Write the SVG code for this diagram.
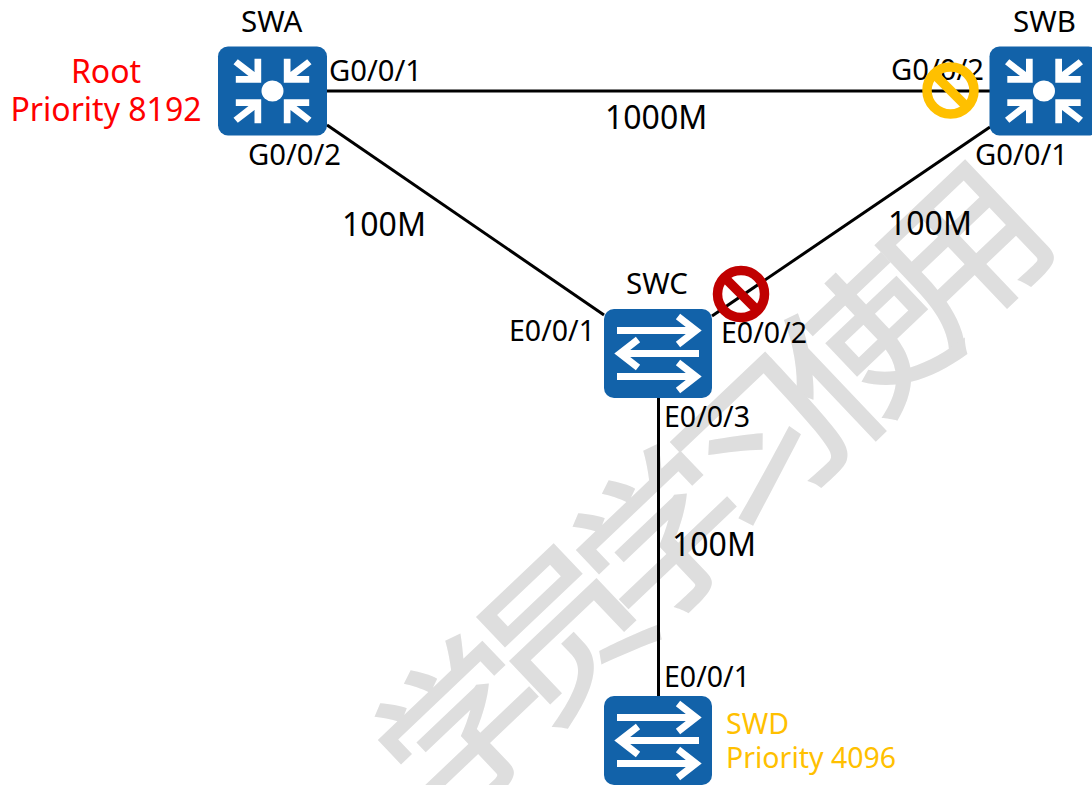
<svg xmlns="http://www.w3.org/2000/svg" width="1092" height="785" viewBox="0 0 1092 785">
<style>
.t{font-family:"Noto Sans","Open Sans","Liberation Sans",sans-serif;font-size:28.5px;fill:#000}
.g{font-size:29.2px}
.n{font-size:29.5px}
.b{font-size:32px}
.r{font-size:32px;fill:#ff0000;text-anchor:middle}
.y{font-size:28.5px;fill:#ffc000}
.wm{font-family:"Noto Sans CJK SC",sans-serif;font-size:150px;font-weight:500;fill:#dedede;text-anchor:middle}
.box{fill:#1262a9}
.ln{stroke:#000;stroke-width:3;fill:none}
.ar{stroke:#fff;stroke-width:7;fill:none}
.fb{fill:none;stroke-width:9.5}
</style>
<defs>
<g id="ic-core">
<rect class="box" x="-54.5" y="-44.5" width="109" height="89" rx="10"/>
<ellipse cx="0" cy="0" rx="11" ry="10.5" fill="#fff"/>
<g fill="#fff">
<polygon id="corner" points="-18,-32.3 -11.3,-32.3 -11.3,-8.3 -36.7,-8.3 -36.7,-15 -24,-15 -39,-26.7 -34.7,-31.7 -18,-19"/>
<use href="#corner" transform="scale(-1,1)"/>
<use href="#corner" transform="scale(1,-1)"/>
<use href="#corner" transform="scale(-1,-1)"/>
</g>
</g>
<g id="ic-sw">
<rect class="box" x="-54" y="-44.5" width="108" height="89" rx="10"/>
<path class="ar" d="M-41,-23H37M20,-37L38,-23L20,-9"/>
<path class="ar" d="M41,0H-37M-20,-14L-38,0L-20,14"/>
<path class="ar" d="M-41,23H37M20,9L38,23L20,37"/>
</g>
</defs>
<g id="watermark">
<text class="wm" transform="translate(965,255) rotate(-43.5) scale(1.12,1.08) translate(0,52)">用</text>
<text class="wm" transform="translate(868,352) rotate(-43.5) scale(1.12,1.08) translate(0,52)">使</text>
<text class="wm" transform="translate(765,448) rotate(-43.5) scale(1.12,1.08) translate(0,52)">习</text>
<text class="wm" transform="translate(665,540) rotate(-43.5) scale(1.12,1.08) translate(0,52)">学</text>
<text class="wm" transform="translate(565,634) rotate(-43.5) scale(1.12,1.08) translate(0,52)">员</text>
<text class="wm" transform="translate(467,730) rotate(-43.5) scale(1.12,1.08) translate(0,52)">学</text>
</g>
<g id="connectors">
<line class="ln" x1="327" y1="91" x2="990" y2="91"/>
<line class="ln" x1="327" y1="125" x2="604" y2="315"/>
<line class="ln" x1="990" y1="127" x2="712" y2="316"/>
<line class="ln" x1="658.5" y1="398" x2="658.5" y2="696"/>
</g>
<g id="SWA">
<use href="#ic-core" transform="translate(272.5,91)"/>
<text class="t n" x="241" y="32">SWA</text>
<text class="t r" x="106" y="83">Root</text>
<text class="t r" x="106" y="121">Priority 8192</text>
<text class="t g" x="329" y="81">G0/0/1</text>
<text class="t g" x="248" y="165">G0/0/2</text>
</g>
<g id="SWB">
<use href="#ic-core" transform="translate(1044,91)"/>
<text class="t n" x="1013" y="32">SWB</text>
<text class="t g" x="891" y="80">G0/0/2</text>
<text class="t g" x="975" y="165">G0/0/1</text>
</g>
<g id="SWC">
<use href="#ic-sw" transform="translate(658,353.5)"/>
<text class="t n" x="626" y="294">SWC</text>
<text class="t" x="509" y="341">E0/0/1</text>
<text class="t" x="721" y="343">E0/0/2</text>
<text class="t" x="664" y="427">E0/0/3</text>
</g>
<g id="SWD">
<use href="#ic-sw" transform="translate(658,740.5)"/>
<text class="t" x="664" y="687">E0/0/1</text>
<text class="t y" x="726" y="734">SWD</text>
<text class="t y" x="726" y="768">Priority 4096</text>
</g>
<g id="link-labels">
<text class="t b" x="605" y="129">1000M</text>
<text class="t b" x="342" y="236">100M</text>
<text class="t b" x="888" y="235">100M</text>
<text class="t b" x="672" y="556">100M</text>
</g>
<g id="block-yellow" stroke="#ffc000">
<circle class="fb" cx="950.5" cy="90.5" r="23.5"/>
<line x1="934" y1="74" x2="967" y2="107" stroke-width="9.5"/>
</g>
<g id="block-red" stroke="#c00000">
<circle class="fb" cx="741" cy="294" r="23.5"/>
<line x1="724.5" y1="277.5" x2="757.5" y2="310.5" stroke-width="9.5"/>
</g>
</svg>
